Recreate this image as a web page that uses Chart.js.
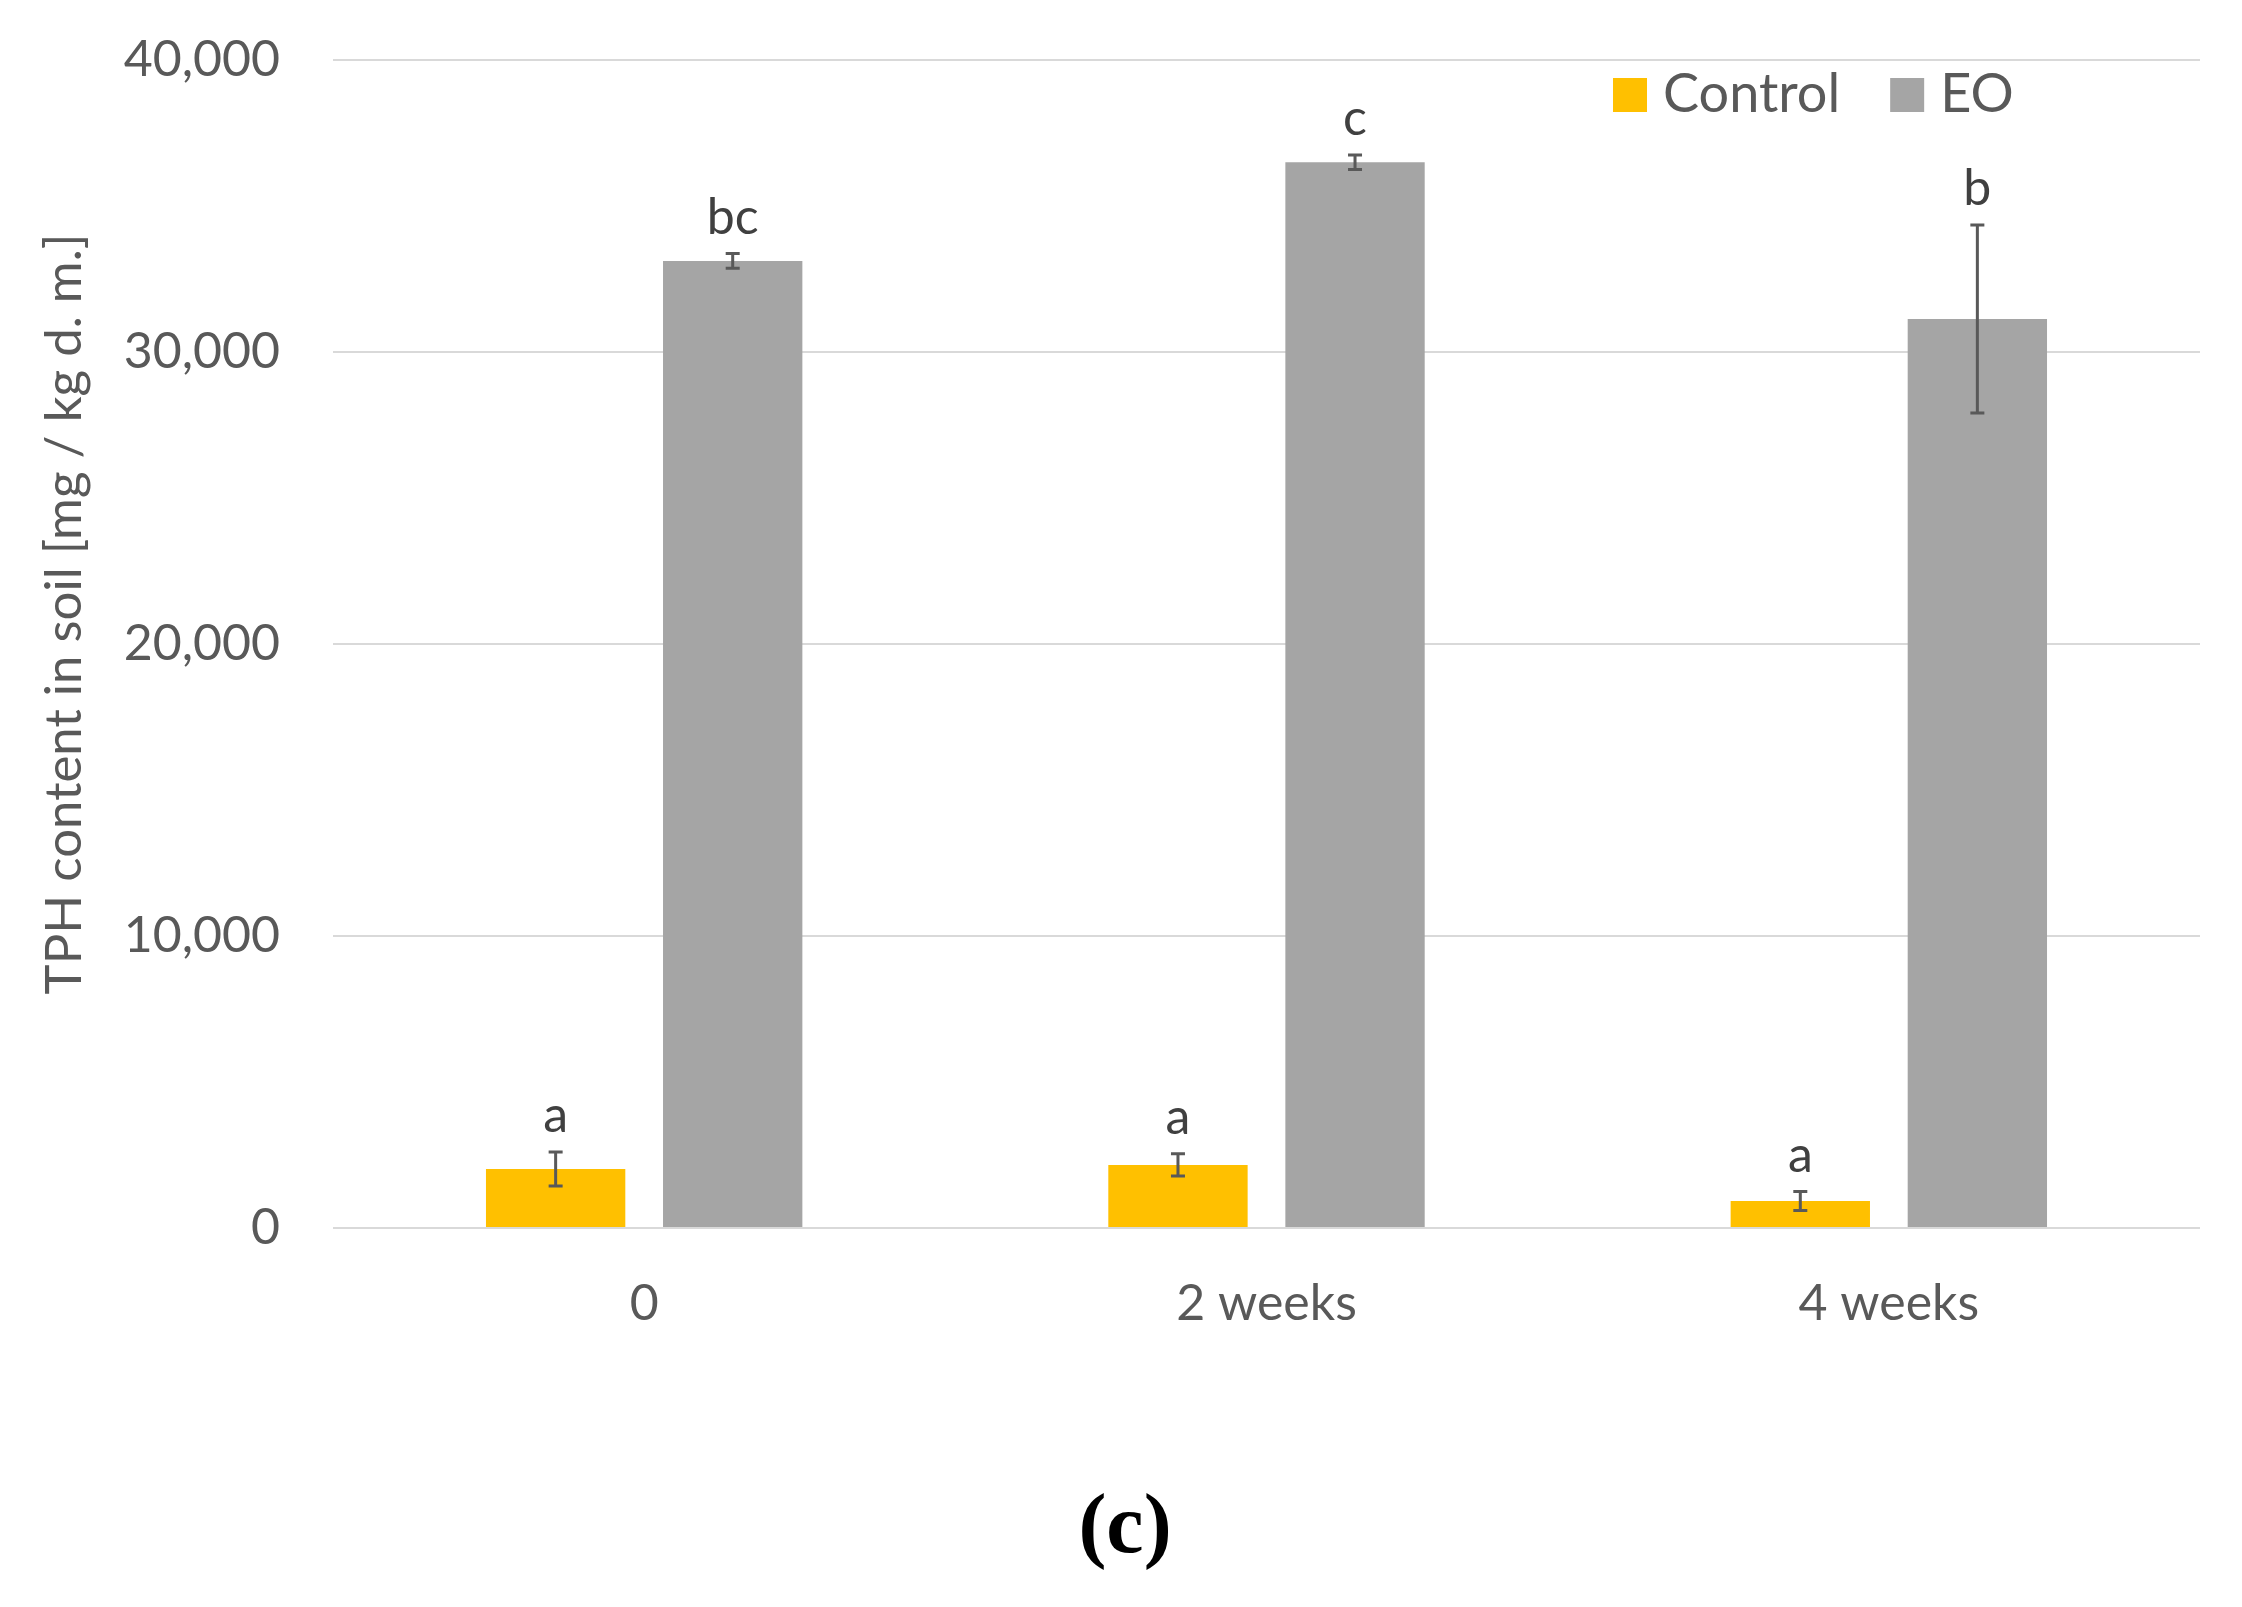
<!DOCTYPE html>
<html>
<head>
<meta charset="utf-8">
<title>TPH content in soil</title>
<script src="https://cdn.jsdelivr.net/npm/chart.js@4.4.1/dist/chart.umd.min.js"></script>
<style>
    html, body { margin: 0; padding: 0; background: #ffffff; }
    canvas { display: block; }
</style>
</head>
<body>
<canvas id="tphChart" width="2242" height="1607"></canvas>
<script>
// data
const categories = ['0', '2 weeks', '4 weeks'];
const controlValues = [2020, 2160, 925];
const controlErrors = [580, 380, 325];
const controlLetters = ['a', 'a', 'a'];
const eoValues = [33120, 36500, 31130];
const eoErrors = [250, 250, 3220];
const eoLetters = ['bc', 'c', 'b'];
const yTicks = [0, 10000, 20000, 30000, 40000];
const yTitle = 'TPH content in soil [mg / kg d. m.]';

const textColor = '#595959';
const baseFont = 'Lato, "Open Sans", sans-serif';

// error bars + significance letters
const errorBarPlugin = {
    id: 'errorBars',
    afterDatasetsDraw(chart) {
        const ctx = chart.ctx;
        const yScale = chart.scales.y;
        chart.data.datasets.forEach((ds, i) => {
            const meta = chart.getDatasetMeta(i);
            meta.data.forEach((bar, j) => {
                const v = ds.data[j];
                const e = ds.errors[j];
                const yTop = yScale.getPixelForValue(v + e);
                const yBot = yScale.getPixelForValue(v - e);
                const cap = 7;
                ctx.save();
                ctx.strokeStyle = '#595959';
                ctx.lineWidth = 3;
                ctx.beginPath();
                ctx.moveTo(bar.x, yTop);
                ctx.lineTo(bar.x, yBot);
                ctx.moveTo(bar.x - cap, yTop);
                ctx.lineTo(bar.x + cap, yTop);
                ctx.moveTo(bar.x - cap, yBot);
                ctx.lineTo(bar.x + cap, yBot);
                ctx.stroke();

                ctx.fillStyle = '#404040';
                ctx.font = '50px ' + baseFont;
                ctx.textAlign = 'center';
                ctx.textBaseline = 'alphabetic';
                ctx.fillText(ds.letters[j], bar.x, yTop - 20);
                ctx.restore();
            });
        });
    }
};

// legend inside the plot, axis title, panel caption
const legendCaptionPlugin = {
    id: 'legendCaption',
    afterDraw(chart) {
        const ctx = chart.ctx;
        ctx.save();
        ctx.font = '54px ' + baseFont;
        ctx.textBaseline = 'middle';
        ctx.textAlign = 'left';
        let x = 1613;
        const y = 95;
        chart.data.datasets.forEach(ds => {
            ctx.fillStyle = ds.backgroundColor;
            ctx.fillRect(x, y - 17, 34, 34);
            ctx.fillStyle = textColor;
            ctx.fillText(ds.label, x + 50, y);
            x += 50 + ctx.measureText(ds.label).width + 50;
        });

        // y axis title
        ctx.save();
        ctx.translate(65, 614);
        ctx.rotate(-Math.PI / 2);
        ctx.font = '51px ' + baseFont;
        ctx.fillStyle = textColor;
        ctx.textAlign = 'center';
        ctx.textBaseline = 'middle';
        ctx.fillText(yTitle, 0, 0);
        ctx.restore();

        ctx.fillStyle = '#000000';
        ctx.font = 'bold 84px "Liberation Serif", "DejaVu Serif", serif';
        ctx.textAlign = 'center';
        ctx.textBaseline = 'middle';
        ctx.fillText('(c)', chart.width / 2 + 4, 1530);
        ctx.restore();
    }
};

const ctxTph = document.getElementById('tphChart').getContext('2d');
const tphChart = new Chart(ctxTph, {
    type: 'bar',
    data: {
        labels: categories,
        datasets: [
            {
                label: 'Control',
                data: controlValues,
                errors: controlErrors,
                letters: controlLetters,
                backgroundColor: '#FFC000',
                categoryPercentage: 0.569,
                barPercentage: 0.787
            },
            {
                label: 'EO',
                data: eoValues,
                errors: eoErrors,
                letters: eoLetters,
                backgroundColor: '#A5A5A5',
                categoryPercentage: 0.569,
                barPercentage: 0.787
            }
        ]
    },
    options: {
        responsive: false,
        animation: false,
        devicePixelRatio: 1,
        layout: {
            padding: { left: 0, right: 42, top: 60, bottom: 0 }
        },
        plugins: {
            legend: { display: false },
            tooltip: { enabled: false }
        },
        scales: {
            x: {
                grid: { display: false },
                border: { display: false },
                ticks: {
                    color: textColor,
                    font: { family: baseFont, size: 50 },
                    padding: 38
                },
                afterFit: (scale) => {
                    scale.height = 1607 - 1228;
                    scale.paddingTop = 0;
                    scale.paddingBottom = 0;
                }
            },
            y: {
                min: 0,
                max: 40000,
                afterBuildTicks: (scale) => {
                    scale.ticks = yTicks.map(v => ({ value: v }));
                },
                grid: {
                    color: '#d9d9d9',
                    lineWidth: 2,
                    drawTicks: false
                },
                border: { display: false },
                ticks: {
                    color: textColor,
                    font: { family: baseFont, size: 50 },
                    padding: 53,
                    callback: (v) => v.toLocaleString('en-US')
                },
                afterFit: (scale) => {
                    scale.width = 333;
                    scale.paddingTop = 0;
                    scale.paddingBottom = 0;
                }
            }
        }
    },
    plugins: [errorBarPlugin, legendCaptionPlugin]
});
</script>
</body>
</html>
